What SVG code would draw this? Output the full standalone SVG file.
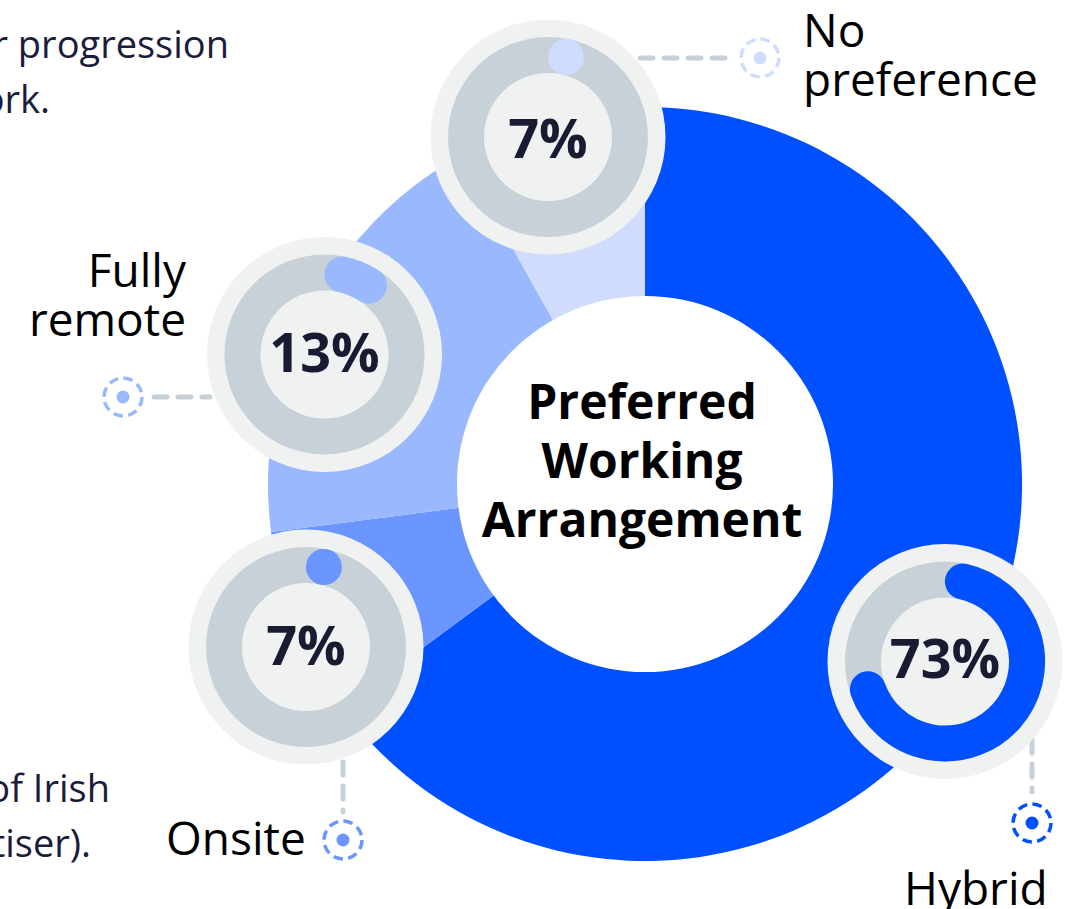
<svg xmlns="http://www.w3.org/2000/svg" width="1083" height="909" viewBox="0 0 1083 909">
<defs>
<style>
.side{font-family:"Open Sans","Liberation Sans",sans-serif;font-size:38px;fill:#1b1c3b}
.lab{font-family:"Open Sans","Liberation Sans",sans-serif;font-size:46px;fill:#000}
.title{font-family:"Open Sans","Liberation Sans",sans-serif;font-size:48px;font-weight:700;fill:#000;text-anchor:middle}
.pct{font-family:"Open Sans","Liberation Sans",sans-serif;font-size:54px;font-weight:700;fill:#1a1a33;text-anchor:middle}
.outer{fill:#f0f2f2}
.track{fill:#c8d0d8}
.inner{fill:#f0f2f2}
.prog{fill:none;stroke-width:36;stroke-linecap:round}
.dash{fill:none;stroke:#c8d0d8;stroke-width:5;stroke-linecap:round;stroke-dasharray:13 11}
.tgt{fill:none;stroke-width:3.5;stroke-dasharray:9.5 5.4}
</style>
</defs>
<rect width="1083" height="909" fill="#fff"/>
<g id="side-text">
<text class="side" x="229" y="58" text-anchor="end">r progression</text>
<text class="side" x="50" y="113" text-anchor="end">ork.</text>
<text class="side" x="110" y="802" text-anchor="end">of Irish</text>
<text class="side" x="91" y="857" text-anchor="end">tiser).</text>
</g>
<g id="main-donut">
<path d="M645 484 L645 107 A377 377 0 1 1 341.6 707.7 Z" fill="#0050ff"/>
<path d="M645 484 L341.6 707.7 A377 377 0 0 1 271.1 531.9 Z" fill="#6b96ff"/>
<path d="M645 484 L271.1 531.9 A377 377 0 0 1 460.5 155.2 Z" fill="#99b8fd"/>
<path d="M645 484 L460.5 155.2 A377 377 0 0 1 645 107 Z" fill="#cfdcfd"/>
<circle cx="645" cy="484" r="188" fill="#fff"/>
<text class="title" x="642" y="419">Preferred</text>
<text class="title" x="642" y="478">Working</text>
<text class="title" x="642" y="537">Arrangement</text>
</g>
<g id="connectors">
<line class="dash" x1="640" y1="58" x2="726" y2="58"/>
<line class="dash" x1="154" y1="397" x2="210" y2="397"/>
<line class="dash" x1="343" y1="762" x2="343" y2="812"/>
<line class="dash" x1="1032" y1="740" x2="1032" y2="792"/>
</g>
<g id="node-nopref">
<circle class="outer" cx="548" cy="137" r="117.5"/>
<circle class="track" cx="548" cy="137" r="100"/>
<circle class="inner" cx="548" cy="137" r="64"/>
<circle cx="565.9" cy="57" r="18" fill="#cfdcfd"/>
<text class="pct" x="548" y="158">7%</text>
<circle class="tgt" cx="760" cy="58" r="19" stroke="#cfdcfd"/>
<circle cx="760" cy="58" r="6.5" fill="#cfdcfd"/>
<text class="lab" x="803" y="47">No</text>
<text class="lab" x="803" y="96">preference</text>
</g>
<g id="node-remote">
<circle class="outer" cx="324.5" cy="354.5" r="117.5"/>
<circle class="track" cx="324.5" cy="354.5" r="100"/>
<circle class="inner" cx="324.5" cy="354.5" r="64"/>
<path class="prog" stroke="#99b8fd" d="M342.4 274.5 A82 82 0 0 1 368.9 285.6"/>
<text class="pct" x="324.5" y="372">13%</text>
<circle class="tgt" cx="123" cy="397" r="19" stroke="#99b8fd"/>
<circle cx="123" cy="397" r="6.5" fill="#99b8fd"/>
<text class="lab" x="186" y="287" text-anchor="end">Fully</text>
<text class="lab" x="186" y="336" text-anchor="end">remote</text>
</g>
<g id="node-onsite">
<circle class="outer" cx="306" cy="647" r="117.5"/>
<circle class="track" cx="306" cy="647" r="100"/>
<circle class="inner" cx="306" cy="647" r="64"/>
<circle cx="323.9" cy="567" r="18" fill="#6b96ff"/>
<text class="pct" x="306" y="665">7%</text>
<circle class="tgt" cx="343" cy="840" r="19" stroke="#6b96ff"/>
<circle cx="343" cy="840" r="6.5" fill="#6b96ff"/>
<text class="lab" x="166" y="855">Onsite</text>
</g>
<g id="node-hybrid">
<circle class="outer" cx="945" cy="661.5" r="117.5"/>
<circle class="track" cx="945" cy="661.5" r="100"/>
<circle class="inner" cx="945" cy="661.5" r="64"/>
<path class="prog" stroke="#0050ff" d="M962.9 581.5 A82 82 0 1 1 867.9 689.3"/>
<text class="pct" x="945" y="678">73%</text>
<circle class="tgt" cx="1032" cy="823" r="19" stroke="#0050ff"/>
<circle cx="1032" cy="823" r="6.5" fill="#0050ff"/>
<text class="lab" x="904" y="905">Hybrid</text>
</g>
</svg>
